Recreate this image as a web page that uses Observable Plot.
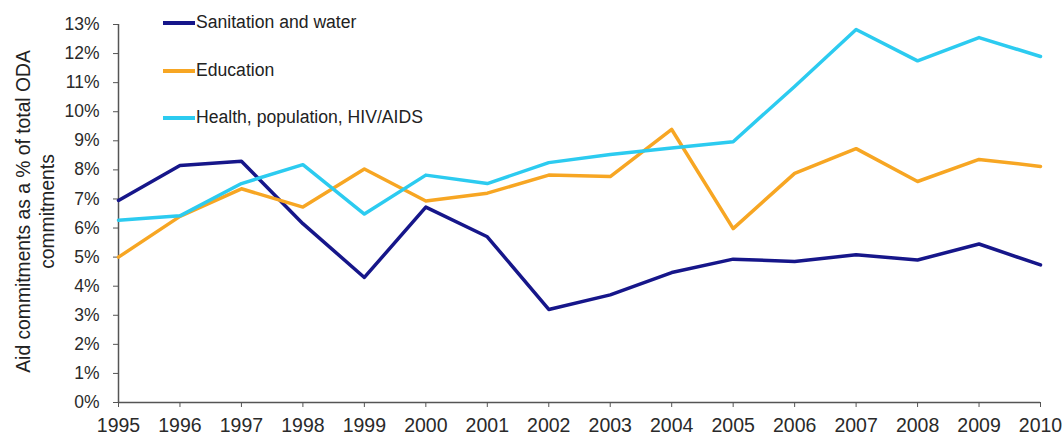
<!DOCTYPE html>
<html>
<head>
<meta charset="utf-8">
<script src="https://cdn.jsdelivr.net/npm/d3@7"></script>
<script src="https://cdn.jsdelivr.net/npm/@observablehq/plot@0.6"></script>
<style>
  html, body { margin: 0; padding: 0; background: #fff; }
  #wrap { position: relative; width: 1064px; height: 436px; font-family: "Liberation Sans", Arial, sans-serif; }
  .legend { position: absolute; left: 163px; top: 0; font-size: 17.6px; color: #222; }
  .legend .item { position: absolute; white-space: nowrap; display: flex; align-items: center; }
  .legend .sw { width: 32px; height: 4px; margin-right: 1px; }
  g[aria-label="x-axis tick label"], g[aria-label="x-axis tick label"] text { font-size: 19.5px !important; }
  g[aria-label="y-axis tick label"], g[aria-label="y-axis tick label"] text { font-size: 17.5px !important; }
</style>
</head>
<body>
<div id="wrap"></div>
<script>
const years = [1995,1996,1997,1998,1999,2000,2001,2002,2003,2004,2005,2006,2007,2008,2009,2010];
const seriesNames = ["Sanitation and water", "Education", "Health, population, HIV/AIDS"];
const seriesColors = ["#16168a", "#f7a623", "#2ccbf0"];
const sanitation = [6.95, 8.15, 8.3, 6.15, 4.3, 6.72, 5.7, 3.2, 3.7, 4.47, 4.93, 4.85, 5.08, 4.9, 5.45, 4.73];
const education  = [5.0, 6.4, 7.35, 6.72, 8.03, 6.93, 7.2, 7.82, 7.77, 9.39, 5.98, 7.88, 8.73, 7.6, 8.36, 8.12];
const health     = [6.27, 6.42, 7.53, 8.18, 6.48, 7.82, 7.53, 8.25, 8.53, 8.75, 8.97, 10.87, 12.83, 11.75, 12.55, 11.9];
const yTicks = [0,1,2,3,4,5,6,7,8,9,10,11,12,13];
const yTitle = "Aid commitments as a % of total ODA\ncommitments";

const allSeries = [sanitation, education, health];
const rows = [];
allSeries.forEach((vals, s) => vals.forEach((v, i) => rows.push({series: seriesNames[s], year: years[i], value: v / 100})));

const chart = Plot.plot({
  width: 1064,
  height: 436,
  marginLeft: 118,
  marginRight: 24,
  marginTop: 24,
  marginBottom: 34,
  style: {fontFamily: "Liberation Sans, Arial, sans-serif", background: "#fff", color: "#333"},
  x: {domain: [1995, 2010], ticks: years, tickFormat: d => String(d), label: null},
  y: {domain: [0, 0.13], ticks: yTicks.map(t => t / 100), tickFormat: d => Math.round(d * 100) + "%", label: null},
  color: {domain: seriesNames, range: seriesColors},
  marks: [
    Plot.axisY({ticks: yTicks.map(t => t / 100), tickFormat: d => Math.round(d * 100) + "%", tickSize: 5, tickPadding: 14, fontSize: 17.5, stroke: "#555", fill: "#2a2a2a", label: null}),
    Plot.axisX({ticks: years, tickFormat: d => String(d), tickSize: 5, tickPadding: 11, fontSize: 19.5, stroke: "#555", fill: "#2a2a2a", label: null}),
    Plot.ruleY([0], {stroke: "#555", strokeWidth: 1.5}),
    Plot.ruleX([1995], {stroke: "#555", strokeWidth: 1.5}),
    Plot.line(rows, {x: "year", y: "value", z: "series", stroke: "series", strokeWidth: 3.5, strokeLinejoin: "round"}),
    Plot.text([yTitle], {frameAnchor: "left", rotate: -90, dx: -84, dy: -2, textAnchor: "middle", lineHeight: 1.24, fontSize: 19.3, fill: "#222"})
  ]
});

const wrap = document.getElementById("wrap");
wrap.appendChild(chart);

const legend = document.createElement("div");
legend.className = "legend";
const legendTops = [12, 60, 107];
seriesNames.forEach((name, i) => {
  const item = document.createElement("div");
  item.className = "item";
  item.style.top = legendTops[i] + "px";
  const sw = document.createElement("span");
  sw.className = "sw";
  sw.style.background = seriesColors[i];
  const lab = document.createElement("span");
  lab.textContent = name;
  item.appendChild(sw);
  item.appendChild(lab);
  legend.appendChild(item);
});
wrap.appendChild(legend);
</script>
</body>
</html>
